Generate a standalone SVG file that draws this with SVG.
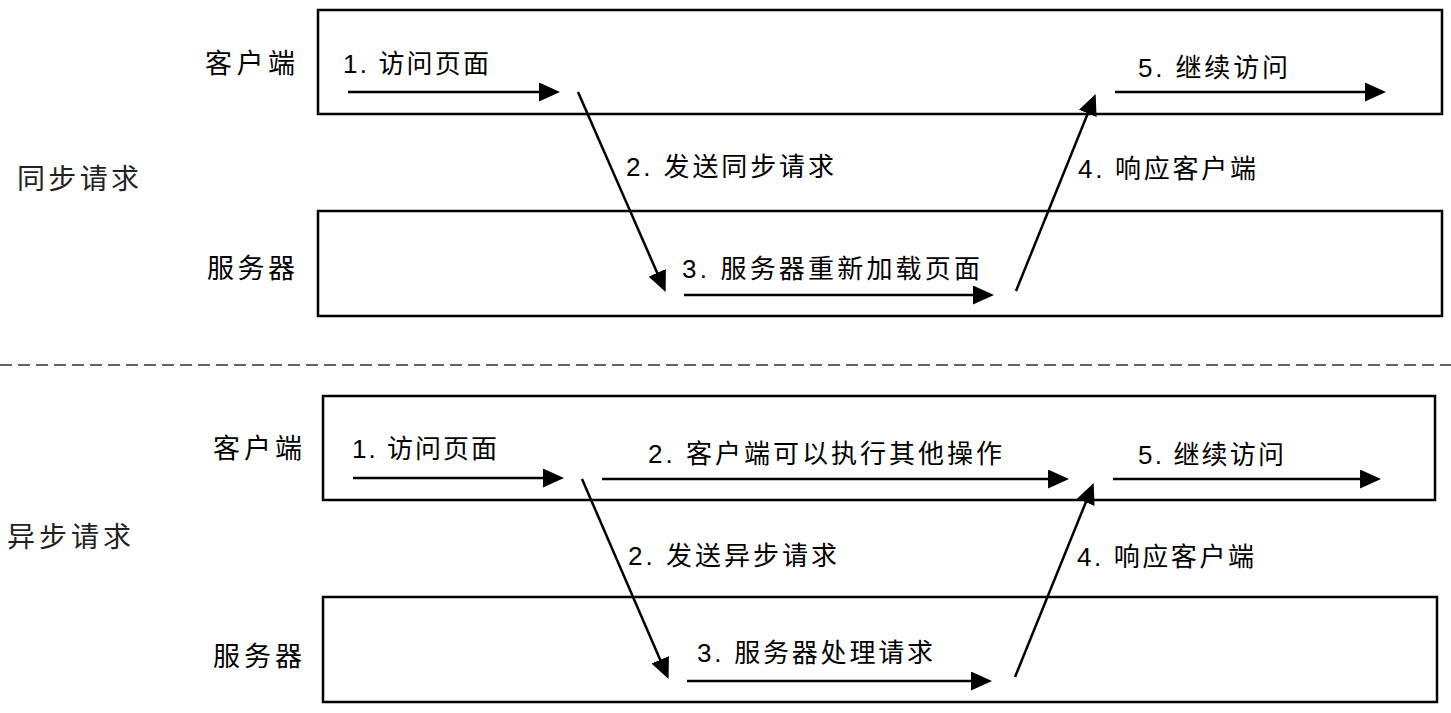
<svg xmlns="http://www.w3.org/2000/svg" width="1451" height="713" viewBox="0 0 1451 713">
<style>
.box{fill:#fff;stroke:#000;stroke-width:2.5}
.lbl{font-family:"Liberation Sans","Noto Sans CJK SC",sans-serif;font-size:26px;fill:#000}
.nm{font-family:"Liberation Sans","Noto Sans CJK SC",sans-serif;font-size:27px;fill:#000}
.side{font-family:"Liberation Sans","Noto Sans CJK SC",sans-serif;font-size:28px;fill:#222}
.arr{stroke:#000;stroke-width:2.5;fill:none;marker-end:url(#ah)}
</style>
<defs>
<marker id="ah" viewBox="0 0 21 19" refX="11" refY="9.5" markerWidth="21" markerHeight="19" markerUnits="userSpaceOnUse" orient="auto">
<path d="M0,0 L21,9.5 L0,19 z" fill="#000"/>
</marker>
</defs>
<rect width="1451" height="713" fill="#fff"/>
<g id="sync-client"><rect class="box" x="318" y="10" width="1124" height="104"/><text class="nm" x="205" y="73" textLength="90">客户端</text></g>
<g id="sync-server"><rect class="box" x="318" y="211" width="1124" height="105"/><text class="nm" x="207" y="278" textLength="88">服务器</text></g>
<g id="sync-label"><text class="side" x="17" y="189" textLength="122">同步请求</text></g>
<line x1="0" y1="365" x2="1451" y2="365" stroke="#333" stroke-width="1.5" stroke-dasharray="12 6"/>
<g id="async-client"><rect class="box" x="323" y="396" width="1112" height="104"/><text class="nm" x="213" y="458" textLength="89">客户端</text></g>
<g id="async-server"><rect class="box" x="323" y="597" width="1114" height="105"/><text class="nm" x="213" y="666" textLength="89">服务器</text></g>
<g id="async-label"><text class="side" x="7" y="547" textLength="124">异步请求</text></g>
<g id="connectors">
<line class="arr" x1="348" y1="92" x2="550" y2="92"/>
<line class="arr" x1="578" y1="92" x2="661.6" y2="282.9"/>
<line class="arr" x1="684" y1="295" x2="984" y2="295"/>
<line class="arr" x1="1016" y1="291" x2="1091.9" y2="103.2"/>
<line class="arr" x1="1115" y1="92" x2="1376" y2="92"/>
<line class="arr" x1="353" y1="478" x2="554" y2="478"/>
<line class="arr" x1="602" y1="479" x2="1059" y2="479"/>
<line class="arr" x1="582" y1="479" x2="664.6" y2="669.9"/>
<line class="arr" x1="687" y1="681" x2="982" y2="681"/>
<line class="arr" x1="1015" y1="677" x2="1089.9" y2="492.2"/>
<line class="arr" x1="1113" y1="479" x2="1371" y2="479"/>
</g>
<g id="connector-labels">
<text class="lbl" x="343" y="73" textLength="146">1. 访问页面</text>
<text class="lbl" x="626" y="176" textLength="208">2. 发送同步请求</text>
<text class="lbl" x="682" y="278" textLength="298">3. 服务器重新加载页面</text>
<text class="lbl" x="1078" y="178" textLength="178">4. 响应客户端</text>
<text class="lbl" x="1138" y="77" textLength="150">5. 继续访问</text>
<text class="lbl" x="352" y="458" textLength="145">1. 访问页面</text>
<text class="lbl" x="648" y="463" textLength="354">2. 客户端可以执行其他操作</text>
<text class="lbl" x="628" y="565" textLength="209">2. 发送异步请求</text>
<text class="lbl" x="697" y="662" textLength="236">3. 服务器处理请求</text>
<text class="lbl" x="1077" y="566" textLength="177">4. 响应客户端</text>
<text class="lbl" x="1138" y="464" textLength="146">5. 继续访问</text>
</g>
</svg>
